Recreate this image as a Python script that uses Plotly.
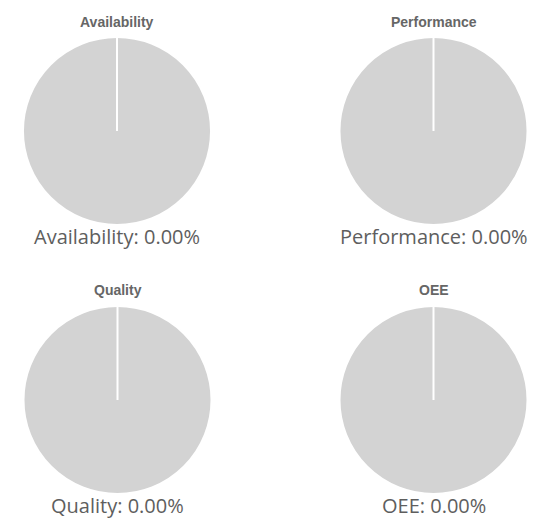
import plotly.graph_objects as go

W, H = 545, 521

metrics = ["Availability", "Performance", "Quality", "OEE"]
percent_values = [0.0, 0.0, 0.0, 0.0]
slice_labels = ["Achieved", "Remaining"]

# pie centers (px) and diameter
centers = [(117, 131), (433.5, 131), (117.5, 400), (433.5, 400)]
title_y = [22, 22, 290, 290]
label_y = [237, 237, 505, 505]
D = 188


def clamp(v):
    return max(0.0, min(1.0, v))


fig = go.Figure()
for i, (name, pct) in enumerate(zip(metrics, percent_values)):
    cx, cy = centers[i]
    r = D / 2
    fig.add_trace(go.Pie(
        labels=slice_labels,
        values=[pct, 100 - pct],
        sort=False,
        direction="clockwise",
        rotation=0,
        textinfo="none",
        hoverinfo="label+percent",
        marker=dict(colors=["#4caf50", "#d3d3d3"], line=dict(color="white", width=2)),
        domain=dict(x=[clamp((cx - r - 5) / W), clamp((cx + r + 5) / W)],
                    y=[clamp(1 - (cy + r) / H), clamp(1 - (cy - r) / H)]),
        showlegend=False,
        name=name,
    ))
    # slice boundary at 12 o'clock (edge of the 0% slice)
    fig.add_shape(
        type="line", xref="paper", yref="paper",
        x0=cx / W, x1=cx / W, y0=1 - cy / H, y1=1 - (cy - r) / H,
        line=dict(color="white", width=2), layer="above",
    )
    fig.add_annotation(
        text=name, x=cx / W, y=1 - title_y[i] / H, xref="paper", yref="paper",
        showarrow=False, xanchor="center", yanchor="middle",
        font=dict(family="Liberation Sans, Arial", size=14, color="#666666", weight="bold"),
    )
    fig.add_annotation(
        text=f"{name}: {pct:.2f}%", x=cx / W, y=1 - label_y[i] / H,
        xref="paper", yref="paper", showarrow=False,
        xanchor="center", yanchor="middle",
        font=dict(family="Open Sans", size=20, color="#5e5e5e"),
    )

fig.update_layout(
    width=W, height=H,
    margin=dict(l=0, r=0, t=0, b=0),
    paper_bgcolor="white", plot_bgcolor="white",
)

fig.write_html("out.html")
